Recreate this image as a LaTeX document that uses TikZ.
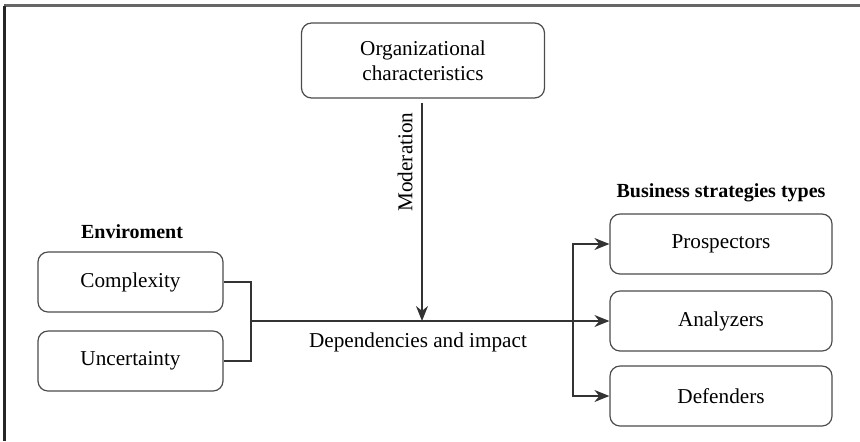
\documentclass[tikz,border=0pt]{standalone}
\usepackage{fontspec}
\setmainfont{Liberation Serif}
\usetikzlibrary{arrows.meta,positioning}

\tikzset{
  box/.style={draw=black!70, line width=0.6pt, rounded corners=5pt, align=center, inner sep=0pt},
  link/.style={draw=black!80, line width=0.65pt},
  tip/.style={-{Stealth[length=7.5pt,width=6pt]}},
  heading/.style={font=\bfseries}
}

\begin{document}
\begin{tikzpicture}[x=0.5pt,y=-0.5pt,font=\fontsize{10.6}{12.5}\selectfont]
\useasboundingbox (0,0) rectangle (860,441);
% frame
\draw[black!60, line width=1.1pt] (4,5.5) -- (860,5.5);
\draw[black!85, line width=1.1pt] (4.5,5.5) -- (4.5,441);

% boxes
\node[box, minimum width=121.5pt, minimum height=37.5pt] (org) at (423,60.5) {Organizational\\characteristics};
\node[box, minimum width=92.5pt, minimum height=30pt] (cplx) at (130.5,282) {Complexity};
\node[box, minimum width=92.5pt, minimum height=30pt] (unc) at (130.5,361) {Uncertainty};
\node[box, minimum width=111pt, minimum height=30pt] (pro) at (721,244) {Prospectors};
\node[box, minimum width=111pt, minimum height=30pt] (ana) at (721,321) {Analyzers};
\node[box, minimum width=111pt, minimum height=30pt] (def) at (721,396) {Defenders};

% headings
\node[heading] (env) at (132,232) {Enviroment};
\node[heading] (bst) at (721,193) {Business strategies types};

% junctions
\coordinate (jl) at (251,321);
\coordinate (mid) at (422,321);
\coordinate (jr) at (573,321);

% connectors
\draw[link] (cplx.east) -| (jl) |- (unc.east);
\draw[link, tip] (jl) -- (ana.west);
\draw[link, tip, shorten <=2pt] (org.south -| mid) -- (mid);
\draw[link, tip] (jr) |- (pro.west);
\draw[link, tip] (jr) |- (def.west);

% labels
\node[rotate=90] (mod) at (405,162) {Moderation};
\node (dep) at (418,342) {Dependencies and impact};
\end{tikzpicture}
\end{document}
